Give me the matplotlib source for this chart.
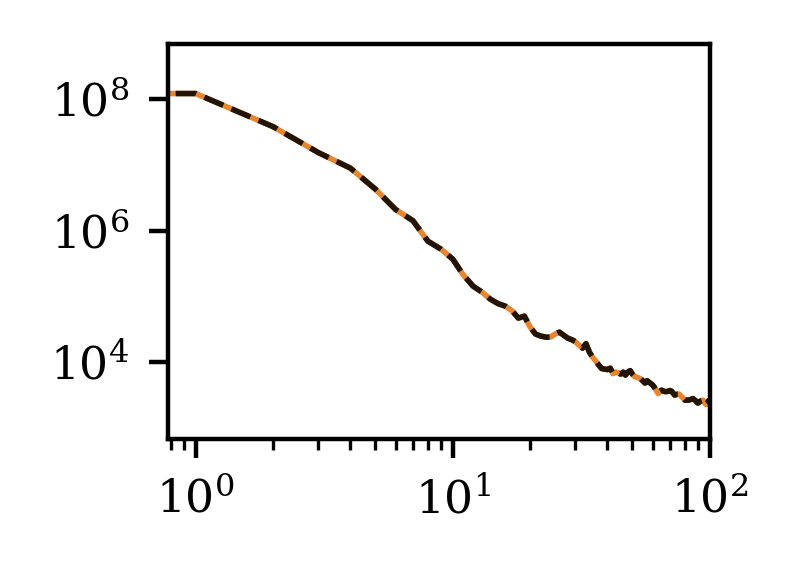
import numpy as np
import matplotlib
matplotlib.use("Agg")
import matplotlib.pyplot as plt
from matplotlib.ticker import NullLocator

# index 0..100, power
k = np.arange(0, 101)
power = [
    1.22e8, 1.22e8, 3.82e7, 1.54e7, 8.93e6, 4.28e6, 2.09e6, 1.42e6, 6.92e5, 5.23e5,
    3.69e5, 2.11e5, 1.43e5, 1.16e5, 9.08e4, 7.76e4, 7.11e4, 6.07e4, 4.67e4, 5.01e4,
    3.41e4, 2.67e4, 2.49e4, 2.40e4, 2.40e4, 2.67e4, 2.86e4, 2.57e4, 2.32e4, 2.20e4,
    2.05e4, 1.81e4, 1.63e4, 1.91e4, 1.42e4, 1.19e4, 1.04e4, 9.00e3, 7.96e3, 7.82e3,
    7.69e3, 8.10e3, 6.69e3, 7.05e3, 6.92e3, 6.57e3, 7.05e3, 6.34e3, 7.05e3, 7.43e3,
    6.57e3, 6.02e3, 5.91e3, 5.71e3, 5.51e3, 5.14e3, 4.79e3, 5.23e3, 4.96e3, 4.71e3,
    4.47e3, 4.09e3, 3.69e3, 3.32e3, 3.62e3, 3.75e3, 3.62e3, 3.56e3, 3.56e3, 3.62e3,
    3.69e3, 3.62e3, 3.38e3, 3.15e3, 3.20e3, 3.26e3, 3.26e3, 3.09e3, 2.94e3, 2.79e3,
    2.64e3, 2.64e3, 2.64e3, 2.64e3, 2.69e3, 2.74e3, 2.79e3, 2.69e3, 2.60e3, 2.46e3,
    2.38e3, 2.46e3, 2.55e3, 2.60e3, 2.64e3, 2.51e3, 2.34e3, 2.26e3, 2.42e3, 2.60e3,
    2.34e3,
]
yticks = [1e4, 1e6, 1e8]

plt.rcParams['font.family'] = 'serif'
plt.rcParams['font.serif'] = ['DejaVu Serif']
plt.rcParams['mathtext.fontset'] = 'dejavuserif'
plt.rcParams['font.size'] = 8.2

fig = plt.figure(figsize=(1.985, 1.45), dpi=400)
ax = fig.add_axes([0.2116, 0.243, 0.6823, 0.681])

ax.loglog(k, power, color='#e6862f', lw=1.0)
ax.loglog(k, power, color='black', alpha=0.85, lw=1.0, ls='--')

ax.set_xlim(0.78, 100)
ax.set_ylim(675, 6.9e8)
ax.set_yticks(yticks)
ax.yaxis.set_minor_locator(NullLocator())

fig.savefig("out.png", dpi=400)
